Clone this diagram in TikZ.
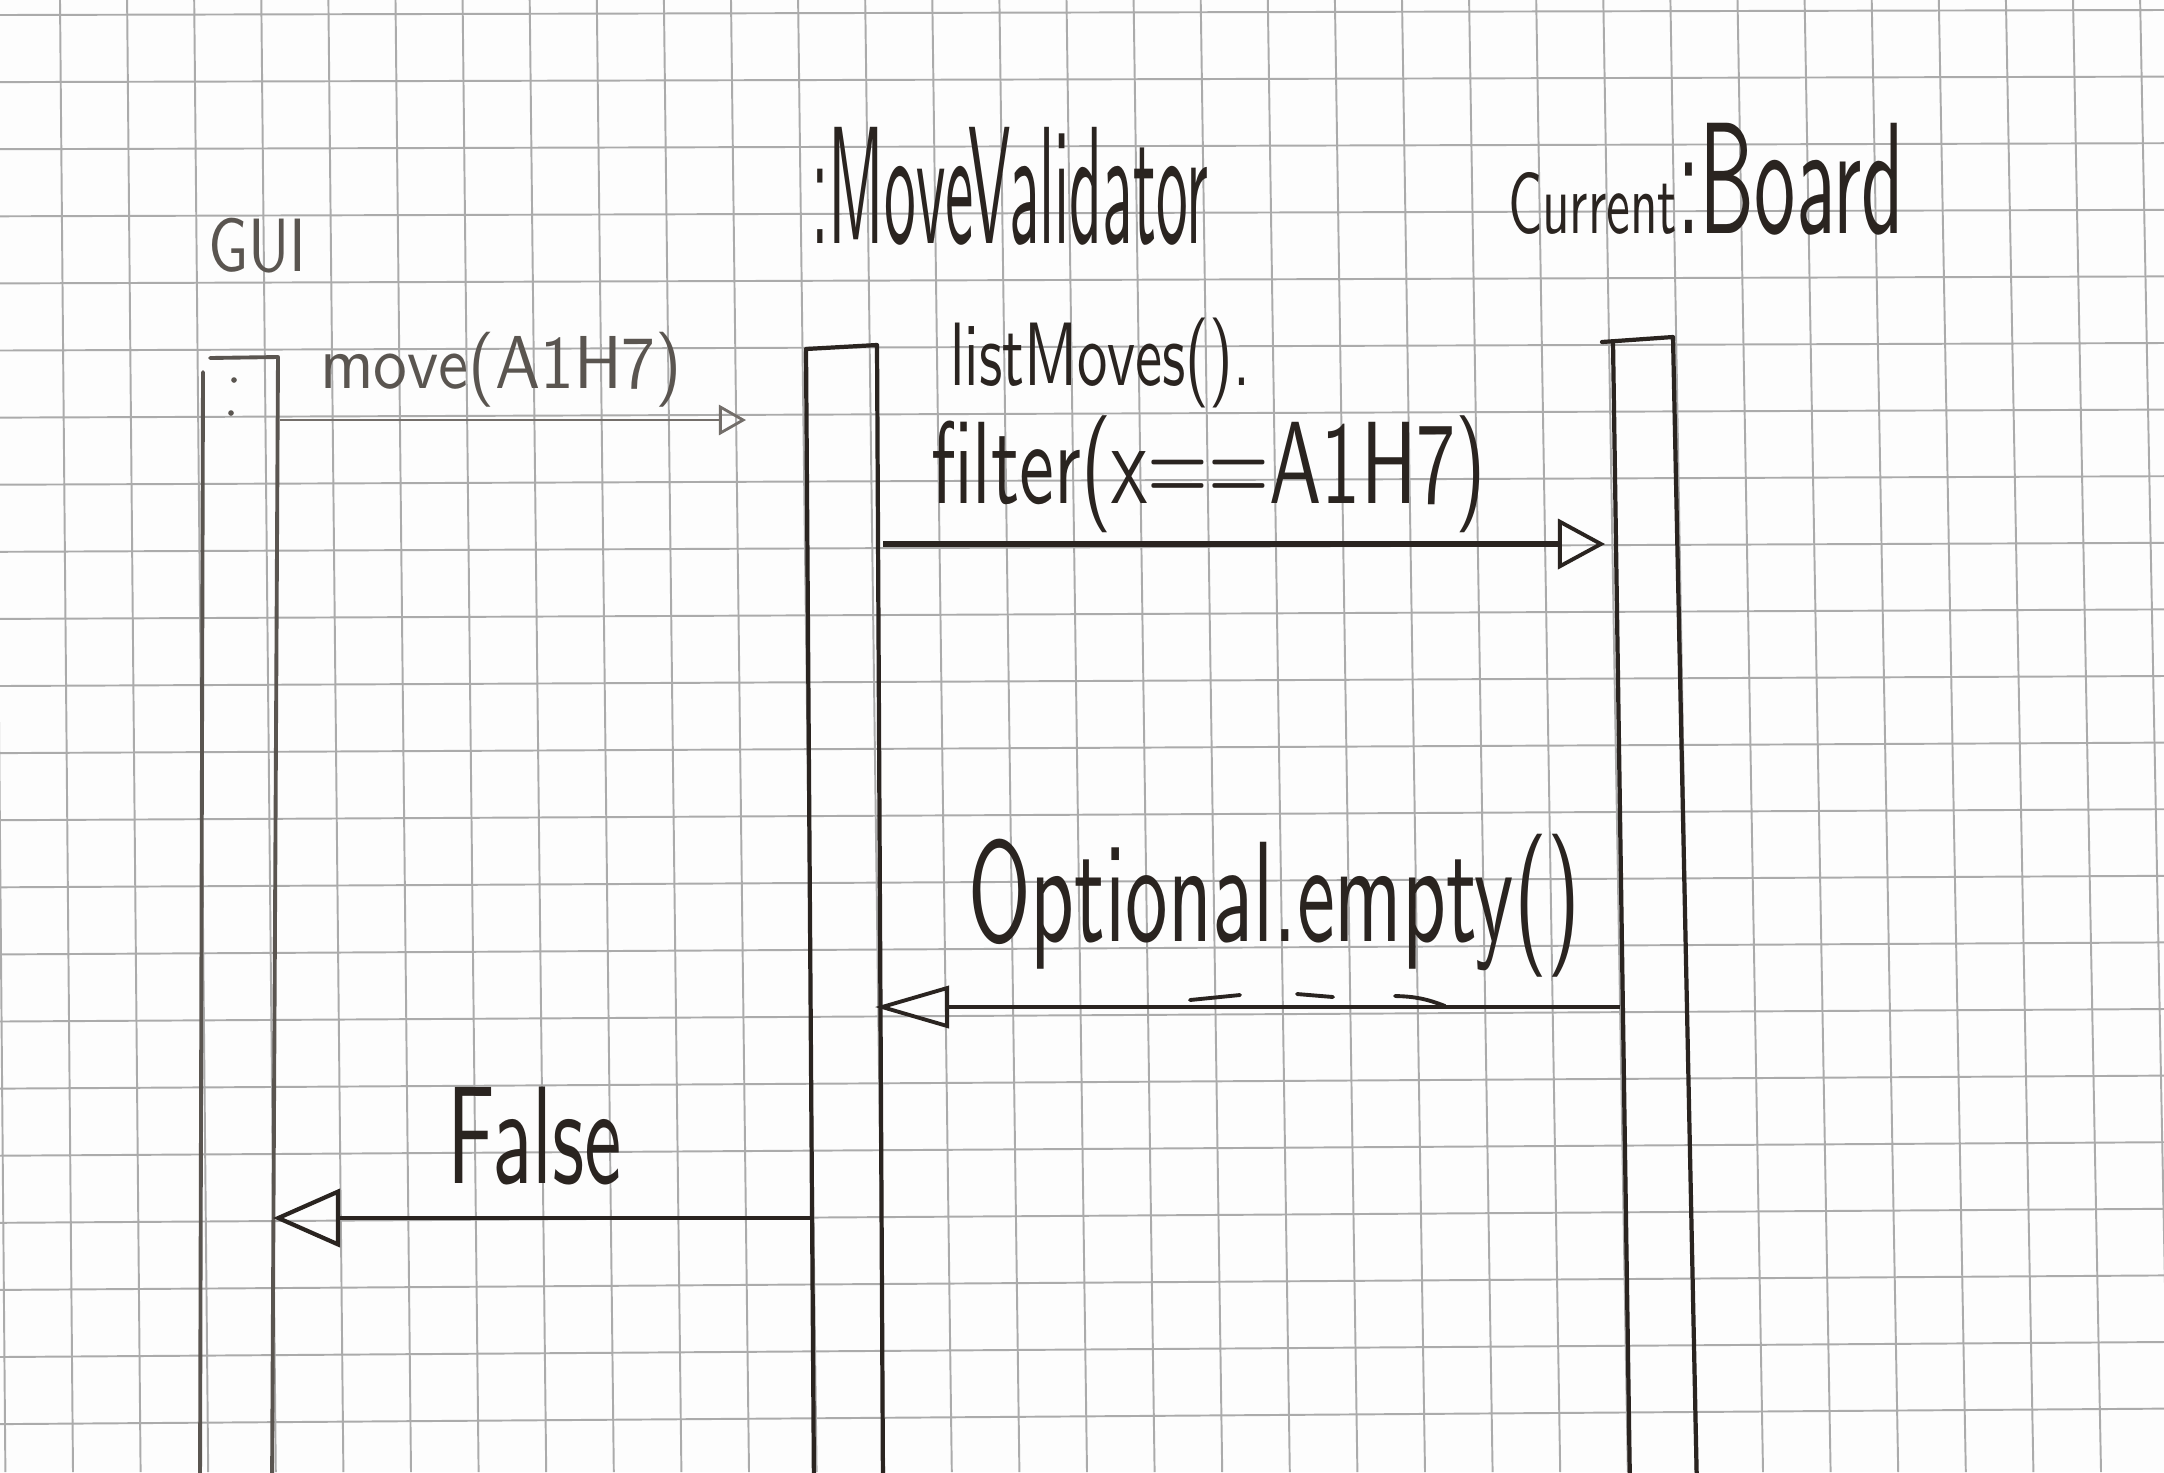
\documentclass[tikz,border=0pt]{standalone}
\usepackage{fontspec}
\usepackage{graphicx}
\usetikzlibrary{arrows.meta}
% light sans face for the handwritten labels
\newcommand\handfont{\sffamily}
% one drawing unit = 0.01cm
\newlength\pxu
\setlength\pxu{0.01cm}
% label squeezed into a box of given width and total height
\newcommand\hw[3]{\resizebox*{#1\pxu}{#2\pxu}{\handfont #3}}
\definecolor{ink}{HTML}{2A2420}
\definecolor{pencil}{HTML}{5A5550}
\definecolor{gridc}{HTML}{ABABAB}
\definecolor{paper}{HTML}{FDFDFD}

\begin{document}
\begin{tikzpicture}[x=0.01cm, y=-0.01cm,
  gridline/.style={draw=gridc, line width=0.55pt},
  lifebox/.style={draw=ink, line width=1.2pt, line cap=round, line join=round},
  guibox/.style={draw=pencil, line width=1.1pt, line cap=round, line join=round},
  lbl/.style={inner sep=0pt, outer sep=0pt, anchor=north west},
  callthin/.style={draw=pencil!85, line width=0.8pt,
    -{Triangle[open, length=0.27cm, width=0.30cm, line width=0.8pt]}},
  callthick/.style={draw=ink, line width=1.45pt,
    -{Triangle[open, length=0.47cm, width=0.50cm, line width=1.1pt]}},
  retA/.style={draw=ink, line width=1.3pt,
    -{Triangle[open, length=0.74cm, width=0.42cm, line width=1.1pt]}},
  retB/.style={draw=ink, line width=1.25pt,
    -{Triangle[open, length=0.67cm, width=0.58cm, line width=1.2pt]}},
  stroke/.style={draw=ink, line width=1.1pt, line cap=round}
]
\useasboundingbox (0,0) rectangle (2164,1472);
\clip (0,0) rectangle (2164,1472);
\fill[paper] (0,0) rectangle (2164,1472);

% squared paper
\foreach \k in {-1,...,32}
  \draw[gridline] ({60+67.1*\k},0) -- ({73+67.6*\k},1472);
\foreach \k in {-1,...,22}
  \draw[gridline] (0,{15+67.1*\k}) -- (2164,{10+66.6*\k});

% lifeline headings
\node[lbl, text=pencil] (guiname) at (208,218) {\hw{98}{55}{GUI}};
\node[lbl, text=ink] (mvname) at (811,127) {\hw{397}{118}{:MoveValidator}};
\node[lbl, text=ink] (boardname) at (1508,123)
  {\hw{169}{62}{Current}\hw{227}{112}{:Board}};

% activation bars
\draw[guibox] (203,372) -- (200,1490);
\draw[guibox] (210,358) -- (278,357) -- (272,1490);
\draw[lifebox] (814,1490) -- (806,349) -- (877,345) -- (883,1490);
\draw[lifebox] (1602,342) -- (1673,337) -- (1697,1490);
\draw[lifebox] (1613,342) -- (1630,1490);
\fill[pencil] (234,380) circle[radius=0.8pt];
\fill[pencil] (231,413) circle[radius=0.8pt];

% message end points
\coordinate (guiOut)   at (280,420);
\coordinate (mvIn)     at (746,420);
\coordinate (mvOut)    at (883,544);
\coordinate (boardIn)  at (1605,544);
\coordinate (boardOut) at (1620,1007);
\coordinate (mvBack)   at (875,1007);
\coordinate (mvRet)    at (814,1218);
\coordinate (guiBack)  at (273,1218);

% messages
\draw[callthin]  (guiOut) -- (mvIn);
\draw[callthick] (mvOut) -- (boardIn);
\draw[retA]      (boardOut) -- (mvBack);
\draw[retB]      (mvRet) -- (guiBack);

% dash marks over the reply line
\draw[stroke] (1190,1000) -- (1240,995);
\draw[stroke] (1297,994) -- (1333,997);
\draw[stroke] (1395,996) to[bend left=10] (1445,1006);

% message labels
\node[lbl, text=pencil] (movelbl) at (320,332) {\hw{362}{75}{move(A1H7)}};
\node[lbl, text=ink] (listlbl) at (950,318) {\hw{300}{90}{listMoves().}};
\node[lbl, text=ink] (filterlbl) at (931,416) {\hw{555}{117}{filter(x==A1H7)}};
\node[lbl, text=ink] (emptylbl) at (968,834) {\hw{612}{143}{Optional.empty()}};
\node[lbl, text=ink] (falselbl) at (447,1087) {\hw{175}{98}{False}};
\end{tikzpicture}
\end{document}
